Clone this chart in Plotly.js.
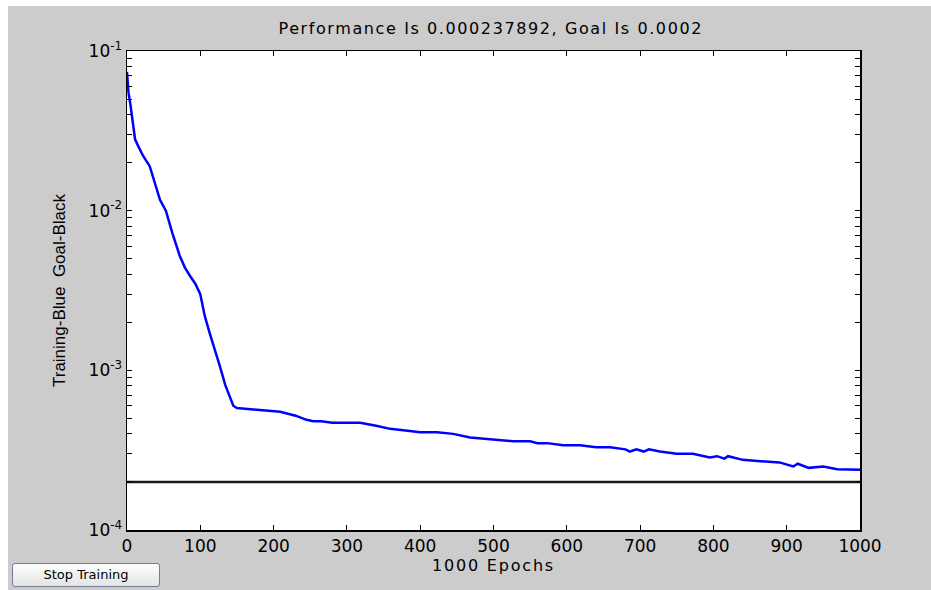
<!DOCTYPE html>
<html><head><meta charset="utf-8">
<script src="https://cdn.plot.ly/plotly-3.0.1.min.js"></script>
<style>
html,body{margin:0;padding:0;background:#ffffff;width:931px;height:590px;overflow:hidden;}
#wrap{position:absolute;left:8px;top:6px;width:923px;height:584px;background:#cccccc;}
#chart{position:absolute;left:0;top:0;width:923px;height:584px;}
#chart .gtitle{letter-spacing:1.6px;}
#chart .xtitle{letter-spacing:1.8px;}
#btn{position:absolute;left:12px;top:563px;width:148px;height:24px;background:linear-gradient(#fdfdfd,#e4e4e4);border:1px solid #6f7f95;border-radius:3px;font-family:"DejaVu Sans",sans-serif;font-size:13px;color:#000;text-align:center;line-height:22px;box-sizing:border-box;}
</style></head>
<body>
<div id="wrap"><div id="chart"></div></div>
<div id="btn">Stop Training</div>
<script>
const epochs = [0,2,5,8,11,16,22,31,38,45,53,62,72,79,86,93,100,106,113,120,127,134,140,145,150,170,190,209,230,245,254,265,280,300,318,340,359,380,400,423,445,468,500,527,550,560,573,595,618,640,659,680,686,695,705,712,727,750,772,785,795,805,815,820,840,864,890,909,915,930,950,969,985,1000];
const perf =   [0.074,0.055,0.045,0.035,0.028,0.025,0.022,0.019,0.015,0.0117,0.0100,0.0072,0.0052,0.0044,0.0039,0.0035,0.0030,0.0022,0.0017,0.00135,0.00105,0.00081,0.00068,0.00060,0.00058,0.00057,0.00056,0.00055,0.00052,0.00049,0.00048,0.00048,0.00047,0.00047,0.00047,0.00045,0.00043,0.00042,0.00041,0.00041,0.00040,0.00038,0.00037,0.00036,0.00036,0.00035,0.00035,0.00034,0.00034,0.00033,0.00033,0.00032,0.00031,0.00032,0.00031,0.00032,0.00031,0.00030,0.00030,0.00029,0.000285,0.00029,0.00028,0.00029,0.000275,0.00027,0.000265,0.00025,0.00026,0.000245,0.00025,0.00024,0.00024,0.000238];
const goalX = [0,1000];
const goalY = [0.0002,0.0002];
const xTicks = [0,100,200,300,400,500,600,700,800,900,1000];
const yDecades = [1e-4,1e-3,1e-2,1e-1];
const yDecadeText = ['10<sup>-4</sup>','10<sup>-3</sup>','10<sup>-2</sup>','10<sup>-1</sup>'];

// tick positions: decades plus 2..9 multiples, labels only on decades
const yTickVals = [], yTickText = [];
yDecades.forEach((d, i) => {
  yTickVals.push(d); yTickText.push(yDecadeText[i]);
  if (i < yDecades.length - 1) for (let m = 2; m <= 9; m++) { yTickVals.push(d * m); yTickText.push(''); }
});

const fam = '"DejaVu Sans", "Liberation Sans", Arial, sans-serif';
Plotly.newPlot('chart', [
  {x:epochs, y:perf, mode:'lines', line:{color:'#0000ff', width:2.5}, hoverinfo:'skip'},
  {x:goalX, y:goalY, mode:'lines', line:{color:'#1a1a1a', width:2.5}, hoverinfo:'skip'}
], {
  width:923, height:584,
  margin:{l:119, r:71, t:45, b:60},
  paper_bgcolor:'#cccccc', plot_bgcolor:'#ffffff',
  showlegend:false,
  font:{family:fam, size:16, color:'#000'},
  title:{text:'Performance Is 0.000237892, Goal Is 0.0002', x:0.523, xanchor:'center', y:0.962, yanchor:'middle', font:{family:fam, size:16, color:'#000'}},
  xaxis:{range:[0,1000], tickvals:xTicks, ticktext:xTicks.map(String), ticks:'inside', ticklen:5, tickcolor:'#000',
         showline:true, linecolor:'#000', linewidth:1.5, mirror:'ticks', showgrid:false, zeroline:false,
         tickfont:{family:fam, size:17}, title:{text:'1000 Epochs', font:{family:fam, size:16}, standoff:0}},
  yaxis:{type:'log', range:[-4,-1], tickvals:yTickVals, ticktext:yTickText, ticks:'inside', ticklen:5, tickcolor:'#000',
         showline:true, linecolor:'#000', linewidth:1.5, mirror:'ticks', showgrid:false, zeroline:false,
         tickfont:{family:fam, size:17}, title:{text:'Training-Blue  Goal-Black', font:{family:'"Liberation Sans", Arial, sans-serif', size:17}, standoff:18}}
}, {displayModeBar:false, staticPlot:true});
</script>
</body></html>
